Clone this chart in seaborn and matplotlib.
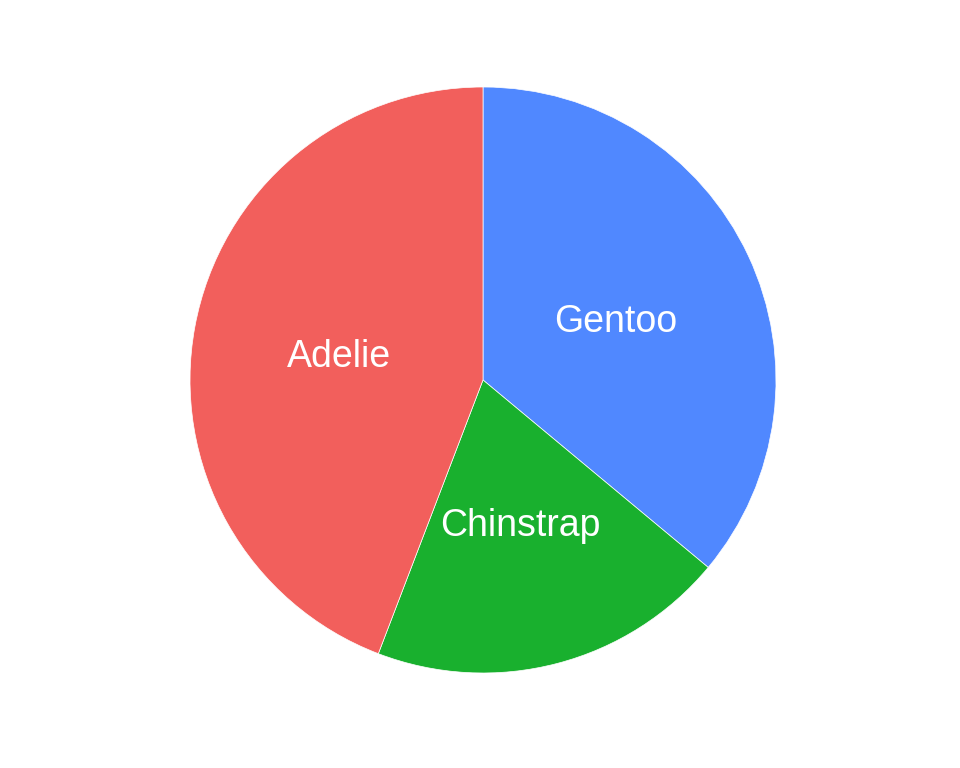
import matplotlib
matplotlib.use('Agg')
import matplotlib.pyplot as plt
import seaborn as sns

species = ['Gentoo', 'Chinstrap', 'Adelie']
counts = [124, 68, 152]
colors = ['#5088FF', '#19B02E', '#F25F5C']

sns.set_theme(style='white')
plt.rcParams['font.family'] = ['Liberation Sans', 'DejaVu Sans']

fig = plt.figure(figsize=(9.6, 7.68), dpi=100)
ax = fig.add_axes([190 / 960, (768 - 380 - 293) / 768, 586 / 960, 586 / 768])

wedges, texts = ax.pie(counts, labels=species, colors=colors, startangle=90,
                       counterclock=False, labeldistance=0.5,
                       wedgeprops={'linewidth': 0.5, 'edgecolor': 'white'},
                       textprops={'color': 'white', 'fontsize': 27})
for t in texts:
    t.set_ha('center')
    t.set_va('center_baseline')

ax.set_xlim(-1, 1)
ax.set_ylim(-1, 1)
ax.set_aspect('equal')

fig.savefig('out.png', dpi=100)
